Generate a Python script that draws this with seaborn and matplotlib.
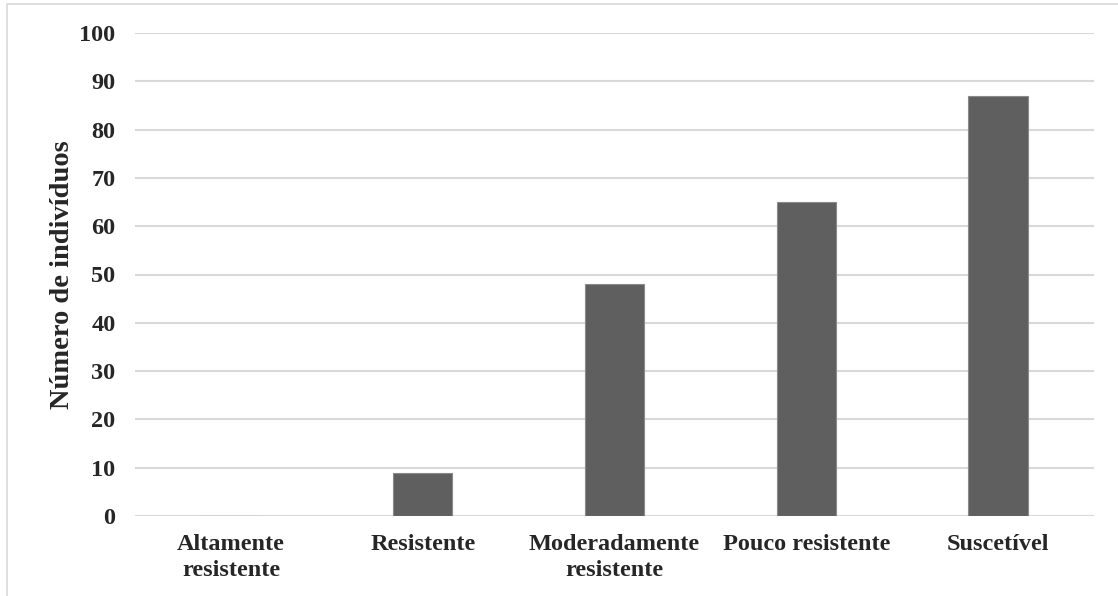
import matplotlib
matplotlib.use("Agg")
import matplotlib.pyplot as plt
import seaborn as sns
import pandas as pd

categorias = ["Altamente\nresistente", "Resistente", "Moderadamente\nresistente",
              "Pouco resistente", "Suscetível"]
individuos = [0, 9, 48, 65, 87]
ticks_y = [0, 10, 20, 30, 40, 50, 60, 70, 80, 90, 100]

sns.set_theme(style="white")
plt.rcParams["font.family"] = ["Liberation Serif", "DejaVu Serif"]
plt.rcParams["font.weight"] = "bold"

df = pd.DataFrame({"categoria": categorias, "n": individuos})

fig = plt.figure(figsize=(11.18, 5.96), dpi=100)
ax = fig.add_axes([135 / 1118, 1 - 516 / 596, (1094 - 135) / 1118, (516 - 33) / 596])

sns.barplot(data=df, x="categoria", y="n", color="#5f5f5f", width=0.31,
            edgecolor="#8a8a8a", linewidth=0.8, saturation=1, ax=ax, zorder=3)

ax.set_ylim(0, 100)
ax.set_xlim(-0.5, len(categorias) - 0.5)
ax.set_yticks(ticks_y)
ax.yaxis.grid(True, color="#d9d9d9", linewidth=1.5, zorder=0)
ax.xaxis.grid(False)
for s in ax.spines.values():
    s.set_visible(False)
ax.tick_params(axis="both", length=0, labelsize=17.5)
ax.tick_params(axis="x", pad=13)
ax.tick_params(axis="y", pad=14)
for lbl in ax.get_xticklabels() + ax.get_yticklabels():
    lbl.set_fontweight("bold")
    lbl.set_linespacing(1.3)
ax.set_xlabel("")
ax.set_ylabel("Número de indivíduos", fontsize=20.5, fontweight="bold", labelpad=3)

# outer chart frame
frame = plt.Line2D([7 / 1118, 7 / 1118, 1.0], [0.0, 1 - 4 / 596, 1 - 4 / 596],
                   transform=fig.transFigure, color="#d9d9d9", linewidth=1.2)
fig.add_artist(frame)

fig.savefig("out.png", dpi=100, facecolor="white")
